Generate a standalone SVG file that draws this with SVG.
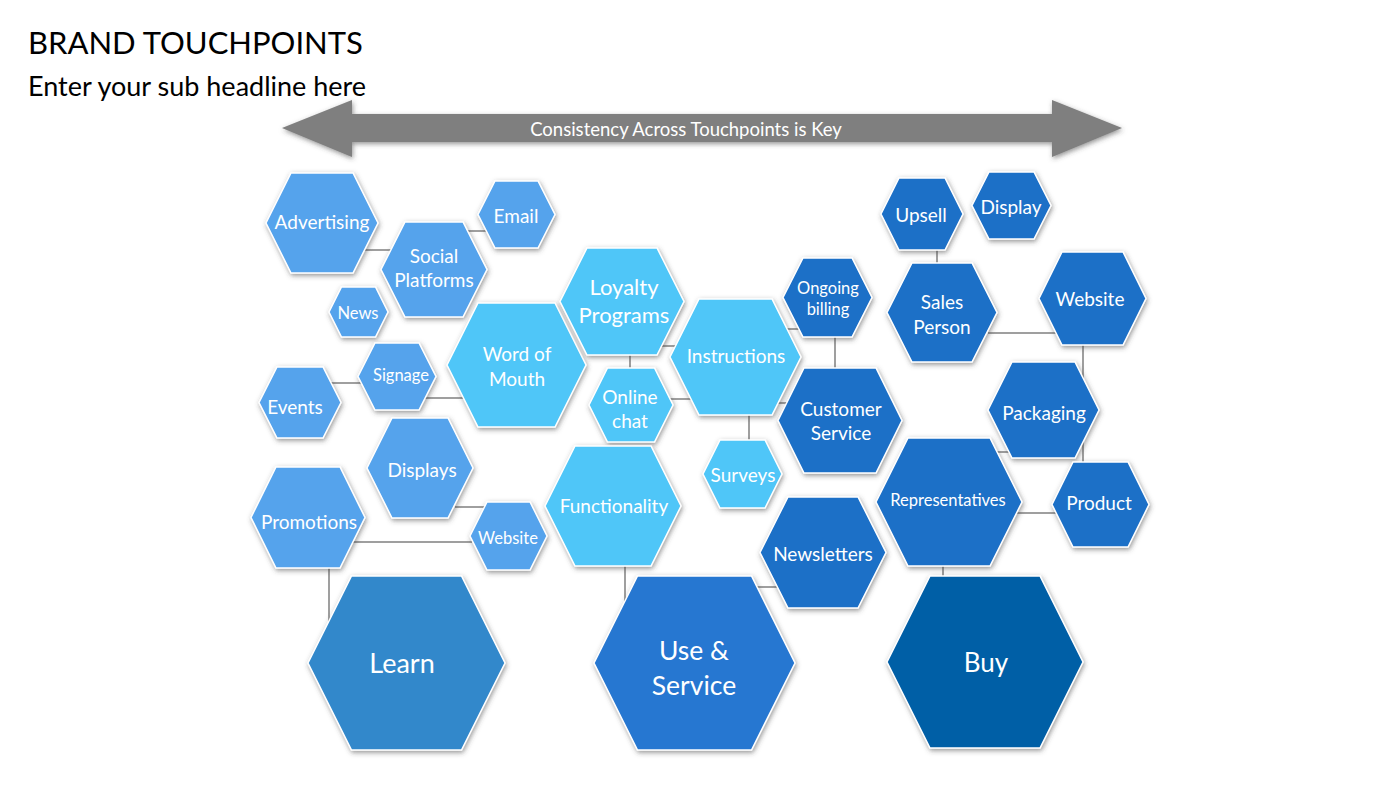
<svg xmlns="http://www.w3.org/2000/svg" width="1400" height="788" viewBox="0 0 1400 788">
<defs>
<filter id="sh" x="-20%" y="-20%" width="140%" height="140%">
<feDropShadow dx="1" dy="2" stdDeviation="2.5" flood-color="#404040" flood-opacity="0.55"/>
</filter>
<style>
.hx{stroke:#ffffff;stroke-width:1.5;filter:url(#sh)}
.l1{fill:#55a3ec}
.u1{fill:#4fc6f8}
.b1{fill:#1c6fc7}
.learn{fill:#3288cb}
.use{fill:#2777d1}
.buy{fill:#045fa6}
.t{font-family:Lato,"Open Sans","Liberation Sans",sans-serif;fill:#ffffff;text-anchor:middle;dominant-baseline:central;font-size:19px}
.s{font-size:16.5px}
.cn line{stroke:#7f7f7f;stroke-width:1.5}
.hd{font-family:Lato,"Open Sans","Liberation Sans",sans-serif;fill:#000000}
</style>
</defs>
<rect width="1400" height="788" fill="#ffffff"/>
<text class="hd" x="28" y="54" font-size="31">BRAND TOUCHPOINTS</text>
<text class="hd" x="28" y="96" font-size="27">Enter your sub headline here</text>
<g id="arrow">
<polygon points="282,128 352,100 352,114 1052,114 1052,100 1122,128 1052,157 1052,142 352,142 352,157" fill="#7f7f7f" filter="url(#sh)"/>
<text class="t" x="686" y="129" style="font-size:18.5px">Consistency Across Touchpoints is Key</text>
</g>
<g id="connectors" class="cn">
<line x1="362" y1="250" x2="392" y2="250"/>
<line x1="464" y1="231" x2="487" y2="231"/>
<line x1="330" y1="383" x2="363" y2="383"/>
<line x1="423" y1="398" x2="465" y2="398"/>
<line x1="455" y1="507" x2="487" y2="507"/>
<line x1="353" y1="542" x2="472" y2="542"/>
<line x1="329" y1="566" x2="329" y2="624"/>
<line x1="630" y1="353" x2="630" y2="370"/>
<line x1="658" y1="346" x2="677" y2="346"/>
<line x1="670" y1="399" x2="693" y2="399"/>
<line x1="785" y1="329" x2="800" y2="329"/>
<line x1="835" y1="335" x2="835" y2="370"/>
<line x1="775" y1="403" x2="790" y2="403"/>
<line x1="749" y1="413" x2="749" y2="442"/>
<line x1="625" y1="564" x2="625" y2="608"/>
<line x1="753" y1="587" x2="785" y2="587"/>
<line x1="937" y1="248" x2="937" y2="265"/>
<line x1="988" y1="333" x2="1058" y2="333"/>
<line x1="1083" y1="343" x2="1083" y2="464"/>
<line x1="992" y1="452" x2="1013" y2="452"/>
<line x1="1016" y1="513" x2="1057" y2="513"/>
<line x1="943" y1="564" x2="943" y2="578"/>
</g>
<g id="advertising"><polygon class="hx l1" points="266,223 291,173 353,173 378,223 353,273 291,273"/><text class="t" x="322" y="221">Advertising</text></g>
<g id="email"><polygon class="hx l1" points="478,214.5 495,181 538,181 555,214.5 538,248 495,248"/><text class="t" x="516" y="215">Email</text></g>
<g id="social-platforms"><polygon class="hx l1" points="381,269.5 405,222 463,222 487,269.5 463,317 405,317"/><text class="t" x="434" y="255">Social</text><text class="t" x="434" y="279">Platforms</text></g>
<g id="news"><polygon class="hx l1" points="329,312 341.5,287 375.5,287 388,312 375.5,337 341.5,337"/><text class="t s" x="358" y="313">News</text></g>
<g id="word-of-mouth"><polygon class="hx u1" points="447,365 478,303 555,303 586,365 555,427 478,427"/><text class="t" x="517" y="353">Word of</text><text class="t" x="517" y="378">Mouth</text></g>
<g id="signage"><polygon class="hx l1" points="358,376.5 375,343 419,343 436,376.5 419,410 375,410"/><text class="t s" x="401" y="375">Signage</text></g>
<g id="events"><polygon class="hx l1" points="259,402.5 277,367 323,367 341,402.5 323,438 277,438"/><text class="t" x="295" y="406">Events</text></g>
<g id="displays"><polygon class="hx l1" points="367,468 392,418 448,418 473,468 448,518 392,518"/><text class="t" x="422" y="469">Displays</text></g>
<g id="promotions"><polygon class="hx l1" points="251,517.5 276,467 340,467 365,517.5 340,568 276,568"/><text class="t" x="309" y="521">Promotions</text></g>
<g id="website-learn"><polygon class="hx l1" points="470,536 487,502 530,502 547,536 530,570 487,570"/><text class="t s" x="508" y="538">Website</text></g>
<g id="loyalty-programs"><polygon class="hx u1" points="560,301.5 587,248 657,248 684,301.5 657,355 587,355"/><text class="t" x="624" y="286" style="font-size:22px">Loyalty</text><text class="t" x="624" y="314" style="font-size:22px">Programs</text></g>
<g id="instructions"><polygon class="hx u1" points="670,357 699,299 772,299 801,357 772,415 699,415"/><text class="t" x="736" y="355">Instructions</text></g>
<g id="ongoing-billing"><polygon class="hx b1" points="783,297.5 803,258 852,258 872,297.5 852,337 803,337"/><text class="t s" x="828" y="288">Ongoing</text><text class="t s" x="828" y="309">billing</text></g>
<g id="online-chat"><polygon class="hx u1" points="589,405 607.5,368 654.5,368 673,405 654.5,442 607.5,442"/><text class="t" x="630" y="396">Online</text><text class="t" x="630" y="420">chat</text></g>
<g id="customer-service"><polygon class="hx b1" points="778,420.5 804,368 876,368 902,420.5 876,473 804,473"/><text class="t" x="841" y="408">Customer</text><text class="t" x="841" y="432">Service</text></g>
<g id="surveys"><polygon class="hx u1" points="703,474 720,440 765,440 782,474 765,508 720,508"/><text class="t" x="743" y="474">Surveys</text></g>
<g id="functionality"><polygon class="hx u1" points="545,506 575,446 651,446 681,506 651,566 575,566"/><text class="t" x="614" y="505">Functionality</text></g>
<g id="newsletters"><polygon class="hx b1" points="760,552.5 788,497 858,497 886,552.5 858,608 788,608"/><text class="t" x="823" y="553">Newsletters</text></g>
<g id="upsell"><polygon class="hx b1" points="881,214 899,178 945,178 963,214 945,250 899,250"/><text class="t" x="921" y="214">Upsell</text></g>
<g id="display"><polygon class="hx b1" points="972,205.5 989,172 1034,172 1051,205.5 1034,239 989,239"/><text class="t" x="1011" y="206">Display</text></g>
<g id="sales-person"><polygon class="hx b1" points="887,312.5 912,263 972,263 997,312.5 972,362 912,362"/><text class="t" x="942" y="301">Sales</text><text class="t" x="942" y="326">Person</text></g>
<g id="website-buy"><polygon class="hx b1" points="1039,298.5 1062,252 1123,252 1146,298.5 1123,345 1062,345"/><text class="t" x="1090" y="298">Website</text></g>
<g id="packaging"><polygon class="hx b1" points="988,410 1012,362 1075,362 1099,410 1075,458 1012,458"/><text class="t" x="1044" y="412">Packaging</text></g>
<g id="representatives"><polygon class="hx b1" points="876,502 908,438 990,438 1022,502 990,566 908,566"/><text class="t s" x="948" y="500">Representatives</text></g>
<g id="product"><polygon class="hx b1" points="1052,504.5 1073,462 1128,462 1149,504.5 1128,547 1073,547"/><text class="t" x="1099" y="502">Product</text></g>
<g id="learn"><polygon class="hx learn" points="308,663 351.5,576 461.5,576 505,663 461.5,750 351.5,750"/><text class="t" x="402" y="662" style="font-size:27px">Learn</text></g>
<g id="use-service"><polygon class="hx use" points="594,663 637.5,576 751.5,576 795,663 751.5,750 637.5,750"/><text class="t" x="694" y="650" style="font-size:26.5px">Use &amp;</text><text class="t" x="694" y="685" style="font-size:26.5px">Service</text></g>
<g id="buy"><polygon class="hx buy" points="887,662 930,576 1040,576 1083,662 1040,748 930,748"/><text class="t" x="986" y="662" style="font-size:26px">Buy</text></g>
</svg>
